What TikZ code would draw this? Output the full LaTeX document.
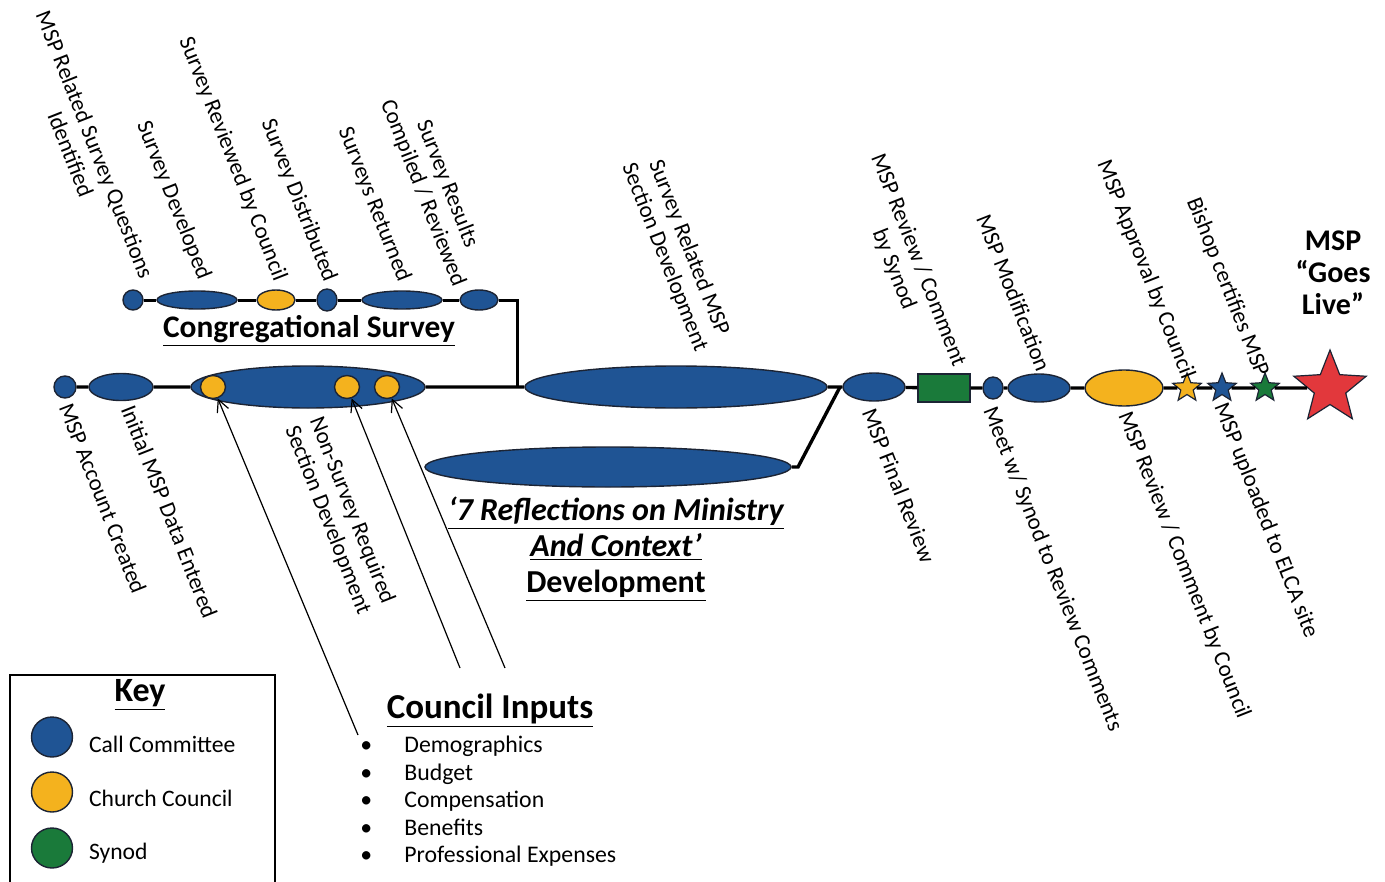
\documentclass[tikz,border=0pt]{standalone}
\usepackage{fontspec}
\setmainfont{Carlito}
\usetikzlibrary{shapes.geometric,arrows.meta}
\definecolor{ccblue}{RGB}{31,84,148}
\definecolor{cngold}{RGB}{244,178,30}
\definecolor{sygreen}{RGB}{26,122,58}
\definecolor{livered}{RGB}{226,56,60}
\definecolor{edgec}{RGB}{28,36,52}
\begin{document}
\begin{tikzpicture}[x=0.5pt,y=-0.5pt,>={Straight Barb[length=6pt,width=6pt]},
  cc/.style={draw=edgec, line width=0.7pt, fill=ccblue, ellipse, inner sep=0pt},
  cn/.style={cc, fill=cngold},
  sy/.style={cc, fill=sygreen},
  tick/.style={draw=edgec, line width=0.6pt, star, star points=5, star point ratio=2.3, inner sep=0pt, minimum size=15pt},
  up/.style={rotate=-68.5, anchor=east, align=center, font=\fontsize{11.5}{13}\selectfont, inner sep=1pt},
  dn/.style={up, anchor=west},
  track/.style={line width=1.7pt, black}]
\useasboundingbox (0,0) rectangle (1385,882);

% survey branch
\node(SQ)[cc, minimum width=10pt, minimum height=10pt] at (133,300) {};
\node(SDev)[cc, minimum width=40pt, minimum height=9pt] at (197,300) {};
\node(SRev)[cn, minimum width=19pt, minimum height=10pt] at (276,300) {};
\node(SDist)[cc, minimum width=10pt, minimum height=11pt] at (327,300) {};
\node(SRet)[cc, minimum width=40pt, minimum height=9pt] at (402,300) {};
\node(SRes)[cc, minimum width=19pt, minimum height=10pt] at (479,300) {};
\coordinate(SEnd) at (517,300);
\coordinate(Jn) at (517,387);

% main line
\node(Acct)[cc, minimum width=11pt, minimum height=11pt] at (65,387) {};
\node(Init)[cc, minimum width=32pt, minimum height=13.5pt] at (121,387) {};
\node(NSR)[cc, minimum width=117pt, minimum height=21pt] at (308,387) {};
\node(O1)[cn, minimum width=12.5pt, minimum height=11.5pt] at (213,387) {};
\node(O2)[cn, minimum width=12.5pt, minimum height=11.5pt] at (347,387) {};
\node(O3)[cn, minimum width=12.5pt, minimum height=11.5pt] at (387,387) {};
\node(SRD)[cc, minimum width=151pt, minimum height=21pt] at (676,387) {};
\node(Refl)[cc, minimum width=183pt, minimum height=20pt] at (608,467) {};
\coordinate(RBend) at (798,467);
\coordinate(Jn2) at (840,387);
\node(Final)[cc, minimum width=31pt, minimum height=14pt] at (874,387) {};
\node(SynRev)[draw=edgec, line width=0.7pt, fill=sygreen, rectangle, minimum width=26pt, minimum height=14pt, inner sep=0pt] at (944,388) {};
\node(Meet)[cc, minimum width=10pt, minimum height=11pt] at (993,388) {};
\node(Modif)[cc, minimum width=31pt, minimum height=14pt] at (1039,388) {};
\node(CRev)[cn, minimum width=39pt, minimum height=18pt] at (1124,388) {};
\node(StApp)[tick, fill=cngold] at (1187,388) {};
\node(StUp)[tick, fill=ccblue] at (1222,388) {};
\node(StBish)[tick, fill=sygreen] at (1265,388) {};
\node(Live)[tick, fill=livered, minimum size=38pt] at (1330,388) {};

\draw[track] (Acct) -- (Init) -- (NSR) -- (SRD) -- (Final) -- (SynRev) -- (Meet) -- (Modif) -- (CRev) -- (StApp) -- (StUp) -- (StBish) -- (Live);
\draw[track, line width=1.5pt] (SQ) -- (SDev) -- (SRev) -- (SDist) -- (SRet) -- (SRes) -- (SEnd) -- (Jn);
\draw[track] (Refl) -- (RBend) -- (Jn2);

% labels above
\node(LSQ)[up] at (136,284) {MSP Related Survey Questions\\Identified};
\node(LSDev)[up] at (205,281) {Survey Developed};
\node(LSRev)[up] at (281,282) {Survey Reviewed by Council};
\node(LSDist)[up] at (331,283) {Survey Distributed};
\node(LSRet)[up] at (405,283) {Surveys Returned};
\node(LSRes)[up] at (472,283) {Survey Results\\Compiled / Reviewed};
\node(LSRD)[up] at (714,348) {Survey Related MSP\\Section Development};
\node(LSyn)[up] at (948,372) {MSP Review / Comment\\by Synod};
\node(LMod)[up] at (1045,372) {MSP Modification};
\node(LApp)[up] at (1189,380) {MSP Approval by Council};
\node(LBish)[up] at (1263,378) {Bishop certifies MSP};

% labels below
\node(LAcct)[dn] at (65,402) {MSP Account Created};
\node(LInit)[dn] at (127,404) {Initial MSP Data Entered};
\node(LNSR)[dn] at (302,420) {Non-Survey Required\\Section Development};
\node(LFin)[dn] at (868,407) {MSP Final Review};
\node(LMeet)[dn] at (988,406) {Meet w/ Synod to Review Comments};
\node(LCRev)[dn] at (1123,411) {MSP Review / Comment by Council};
\node(LUp)[dn] at (1219,402) {MSP uploaded to ELCA site};

% headings
\node(CongT)[font=\bfseries\fontsize{15.7}{18}\selectfont] at (309,331) {\underline{Congregational Survey}};
\node(ReflT)[align=center, font=\bfseries\fontsize{16}{18}\selectfont] at (616,549) {\underline{\itshape ‘7 Reflections on Ministry}\\\underline{\itshape And Context’}\\\underline{Development}};
\node(LiveT)[align=center, font=\bfseries\fontsize{15}{16}\selectfont] at (1333,273) {MSP\\“Goes\\Live”};

% council inputs
\node(CIT)[font=\bfseries\fontsize{17.5}{20}\selectfont] at (490,711) {\underline{Council Inputs}};
\node(CIList)[anchor=north west, align=left, inner sep=0pt, font=\fontsize{11.9}{13.75}\selectfont] at (360,736) {\makebox[22pt][l]{\textbullet}Demographics\\\makebox[22pt][l]{\textbullet}Budget\\\makebox[22pt][l]{\textbullet}Compensation\\\makebox[22pt][l]{\textbullet}Benefits\\\makebox[22pt][l]{\textbullet}Professional Expenses};
\coordinate(CI1) at (358,735);
\coordinate(CI2) at (460,668);
\coordinate(CI3) at (505,668);
\draw[->, line width=0.6pt] (CI1) -- (O1);
\draw[->, line width=0.6pt] (CI2) -- (O2);
\draw[->, line width=0.6pt] (CI3) -- (O3);

% key
\draw[line width=0.8pt] (10,882) |- (275,675) -- (275,882);
\node(KeyT)[font=\bfseries\fontsize{17}{19}\selectfont] at (140,695) {\underline{Key}};
\node(KCC)[cc, minimum width=20.5pt, minimum height=20pt] at (52,737) {};
\node(KCN)[cn, minimum width=20.5pt, minimum height=20pt] at (52,792) {};
\node(KSY)[sy, minimum width=20.5pt, minimum height=20pt] at (52,848) {};
\node(KCCt)[anchor=west, font=\fontsize{11.8}{13}\selectfont] at (82,744) {Call Committee};
\node(KCNt)[anchor=west, font=\fontsize{11.8}{13}\selectfont] at (82,798) {Church Council};
\node(KSYt)[anchor=west, font=\fontsize{11.8}{13}\selectfont] at (82,853) {Synod};
\end{tikzpicture}
\end{document}
